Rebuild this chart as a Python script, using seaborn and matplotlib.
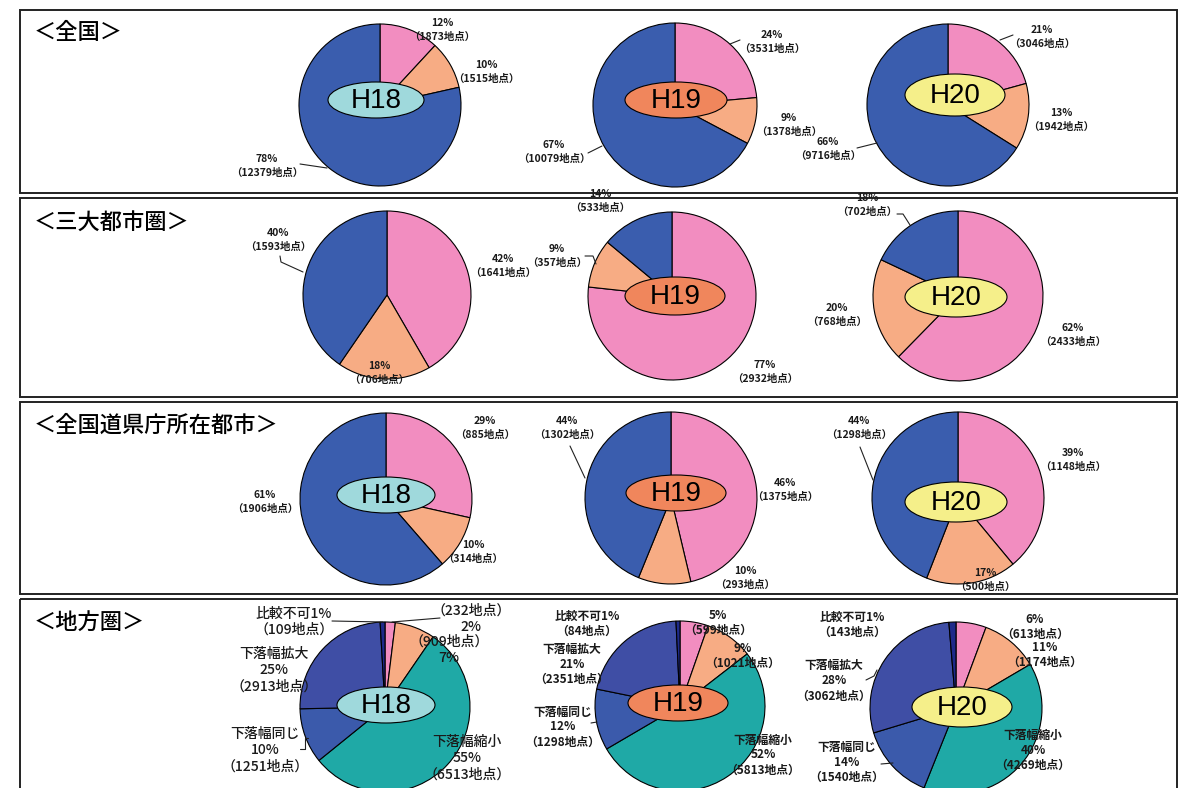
import matplotlib
matplotlib.use("Agg")
import matplotlib.pyplot as plt
from matplotlib.patches import Ellipse, Rectangle
import seaborn as sns

# ---- values ----
years = ["H18", "H19", "H20"]
regions = ["＜全国＞", "＜三大都市圏＞", "＜全国道県庁所在都市＞", "＜地方圏＞"]

# wedges clockwise from 12 o'clock: 上昇, 横ばい, 下落
zenkoku_pts = [[1873, 1515, 12379], [3531, 1378, 10079], [3046, 1942, 9716]]
zenkoku_pct = [[12, 10, 78], [24, 9, 67], [21, 13, 66]]
sandai_pts = [[1641, 706, 1593], [2932, 357, 533], [2433, 768, 702]]
sandai_pct = [[42, 18, 40], [77, 9, 14], [62, 20, 18]]
kencho_pts = [[885, 314, 1906], [1375, 293, 1302], [1148, 500, 1298]]
kencho_pct = [[29, 10, 61], [46, 10, 44], [39, 17, 44]]

# 地方圏: 上昇, 横ばい, 下落幅縮小, 下落幅同じ, 下落幅拡大, 比較不可
chiho_names = ["", "", "下落幅縮小", "下落幅同じ", "下落幅拡大", "比較不可"]
chiho_pts = [[232, 909, 6513, 1251, 2913, 109],
             [599, 1021, 5813, 1298, 2351, 84],
             [613, 1174, 4269, 1540, 3062, 143]]
chiho_pct = [[2, 7, 55, 10, 25, 1],
             [5, 9, 52, 12, 21, 1],
             [6, 11, 40, 14, 28, 1]]

all_pts = [zenkoku_pts, sandai_pts, kencho_pts, chiho_pts]
all_pct = [zenkoku_pct, sandai_pct, kencho_pct, chiho_pct]

# ---- styling / layout (pixel coordinates) ----
col3 = ["#F28DC0", "#F7AC84", "#3A5DAE"]
col6 = ["#F28DC0", "#F7AC84", "#1FA9A6", "#3B5AAB", "#3F4EA5", "#1E2A8A"]
ell_col = {"H18": "#9FD9DC", "H19": "#F0865C", "H20": "#F5EF8A"}

boxes = [(20, 10, 1157, 183), (20, 198, 1157, 199), (20, 402, 1157, 192), (20, 599, 1157, 200)]
title_y = [32, 222, 425, 622]

centers = [[(380, 105, 81), (675, 105, 82), (948, 105, 81)],
           [(387, 295, 84), (672, 296, 84), (958, 296, 85)],
           [(386, 499, 86), (671, 498, 86), (958, 498, 86)],
           [(385, 707, 85), (680, 706, 85), (956, 708, 86)]]

ellipses = [[(376, 100, 96, 36), (676, 100, 102, 36), (955, 95, 100, 42)],
            [None, (675, 296, 100, 38), (956, 297, 102, 40)],
            [(386, 495, 98, 36), (676, 493, 100, 36), (956, 502, 102, 40)],
            [(386, 705, 98, 36), (678, 703, 100, 36), (962, 707, 100, 40)]]

label_pos = [
    [[(442, 30), (486, 72), (267, 166)],
     [(772, 42), (789, 125), (554, 152)],
     [(1042, 37), (1061, 120), (828, 149)]],
    [[(503, 266), (379, 373), (278, 240)],
     [(765, 372), (557, 256), (600, 201)],
     [(1073, 335), (837, 315), (867, 205)]],
    [[(485, 428), (473, 552), (265, 502)],
     [(785, 490), (745, 578), (567, 428)],
     [(1073, 460), (985, 580), (859, 428)]],
    [[(471, 619), (449, 650), (467, 758), (265, 750), (274, 670), (294, 622)],
     [(718, 623), (743, 656), (763, 755), (563, 727), (572, 664), (587, 624)],
     [(1035, 627), (1045, 655), (1033, 750), (847, 762), (834, 681), (852, 625)]],
]

leaders = [
    [(300, 164), (327, 168)], [(730, 44), (740, 40)], [(588, 153), (602, 146)],
    [(1000, 40), (1013, 35)], [(857, 148), (877, 143)],
    [(280, 256), (281, 262), (303, 272)],
    [(585, 256), (593, 256), (596, 264)],
    [(897, 214), (903, 214), (910, 225)],
    [(570, 446), (585, 478)], [(860, 447), (873, 480)],
    [(332, 621), (383, 622)], [(392, 622), (440, 618)],
    [(300, 749), (305, 749), (305, 738), (308, 738)],
    [(591, 723), (597, 722)],
    [(866, 680), (874, 676), (877, 670)], [(881, 764), (893, 763)],
]

sns.set_theme(style="white")
plt.rcParams['font.family'] = ['Noto Sans CJK JP', 'DejaVu Sans']

W, H = 1182, 788
fig = plt.figure(figsize=(W / 100, H / 100), dpi=100)
fig.patch.set_facecolor("white")
ax = fig.add_axes([0, 0, 1, 1])

for r in range(4):
    colors = col6 if r == 3 else col3
    for c in range(3):
        cx, cy, rad = centers[r][c]
        # y axis is inverted later, so start at -90 and go counterclockwise in data
        ax.pie(all_pts[r][c], colors=colors, startangle=-90, counterclock=True,
               center=(cx, cy), radius=rad, frame=False,
               wedgeprops=dict(edgecolor="black", linewidth=0.8))

ax.set_xlim(0, W)
ax.set_ylim(H, 0)
ax.set_aspect("equal")
ax.axis("off")

# panel boxes and titles
for (x, y, w, h), t, ty in zip(boxes, regions, title_y):
    ax.add_patch(Rectangle((x, y), w, h, fill=False, edgecolor="#222222",
                           linewidth=1.4, zorder=0))
    ax.text(34, ty, t, fontsize=16, ha="left", va="center", color="black",
            fontweight="medium")

# year ellipses
for r in range(4):
    for c in range(3):
        e = ellipses[r][c]
        if e is None:
            continue
        ex, ey, ew, eh = e
        ax.add_patch(Ellipse((ex, ey), ew, eh, facecolor=ell_col[years[c]],
                             edgecolor="black", linewidth=0.8, zorder=5))
        ax.text(ex, ey + 1, years[c], fontsize=20, ha="center", va="center",
                family="Liberation Sans", color="black", zorder=6)

# value labels
for r in range(4):
    for c in range(3):
        for i, (lx, ly) in enumerate(label_pos[r][c]):
            pct = all_pct[r][c][i]
            pts = all_pts[r][c][i]
            if r == 3 and chiho_names[i] == "比較不可":
                s = f"比較不可{pct}%\n（{pts}地点）"
            elif r == 3 and chiho_names[i]:
                s = f"{chiho_names[i]}\n{pct}%\n（{pts}地点）"
            elif r == 3 and c == 0:
                s = f"（{pts}地点）\n{pct}%"
            else:
                s = f"{pct}%\n（{pts}地点）"
            fw = "bold"
            if r == 3:
                fs = 10 if c == 0 else 8.5
                ls = 1.2
                if c == 0:
                    fw = "medium"
            else:
                fs = 7.5
                ls = 1.45
            ax.text(lx, ly, s, fontsize=fs, ha="center", va="center",
                    linespacing=ls, fontweight=fw, color="#1a1a1a", zorder=7)

for seg in leaders:
    xs = [p[0] for p in seg]
    ys = [p[1] for p in seg]
    ax.plot(xs, ys, color="#222222", linewidth=0.8, zorder=7)

fig.savefig("out.png", dpi=100)
